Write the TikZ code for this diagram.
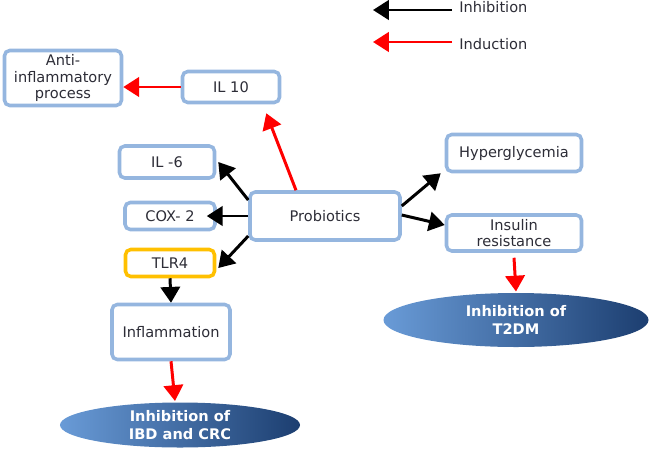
\documentclass[tikz,border=0pt]{standalone}
\usepackage{fontspec}
\setmainfont{DejaVu Sans}
\usetikzlibrary{arrows.meta,shapes.geometric,positioning}

\definecolor{boxblue}{RGB}{149,182,223}
\definecolor{tlrorange}{RGB}{255,192,0}
\definecolor{ovallight}{RGB}{105,155,215}
\definecolor{ovaldark}{RGB}{28,62,112}
\definecolor{labelgray}{RGB}{45,45,55}

\begin{document}
\begin{tikzpicture}
  [
  x=0.2mm, y=-0.2mm,
  font=\fontsize{8.3}{9.6}\selectfont, text=labelgray, line width=1.7pt,
  >={Triangle[width=11pt,length=9pt]},
  factor/.style={rectangle, draw=boxblue, line width=2pt, rounded corners=3pt, fill=white, align=center, inner sep=1pt},
  receptor/.style={factor, draw=tlrorange},
  outcome/.style={ellipse, left color=ovallight, right color=ovaldark, text=white, font=\fontsize{8.3}{10.5}\selectfont\bfseries, align=center, inner sep=0pt},
  inhib/.style={->, draw=black},
  induc/.style={->, draw=red}
  ]
\useasboundingbox (0,0) rectangle (650,452);

% legend
\node[anchor=west] (inhlabel) at (452,7) {Inhibition};
\node[anchor=west] (indlabel) at (452,44) {Induction};
\coordinate (inhtip) at (373,10);
\coordinate (indtip) at (373,42);
\draw[inhib] (inhlabel.west |- inhtip) -- (inhtip);
\draw[induc] (indlabel.west |- indtip) -- (indtip);

% boxes
\node[factor, minimum width=23.4mm, minimum height=11mm] (anti) at (63,78) {Anti-\\inflammatory\\process};
\node[factor, minimum width=19.4mm, minimum height=6.2mm] (il10) at (231,87) {IL 10};
\node[factor, minimum width=19mm, minimum height=6.4mm] (il6) at (167,162) {IL -6};
\node[factor, minimum width=18mm, minimum height=5.4mm] (cox2) at (170,216) {COX- 2};
\node[receptor, minimum width=17.8mm, minimum height=5.4mm] (tlr4) at (170,263) {TLR4};
\node[factor, minimum width=30mm, minimum height=9.6mm] (probiotics) at (325,216) {Probiotics};
\node[factor, minimum width=27mm, minimum height=7.4mm] (hyper) at (514,153) {Hyperglycemia};
\node[factor, minimum width=27mm, minimum height=7.2mm] (insulin) at (514,233) {Insulin\\resistance};
\node[factor, minimum width=23.6mm, minimum height=11mm] (inflam) at (171,332) {Inflammation};

% outcomes
\node[outcome, minimum width=48mm, minimum height=9mm] (ibd) at (180,425) {Inhibition of\\IBD and CRC};
\node[outcome, minimum width=53mm, minimum height=10.8mm] (t2dm) at (516,320) {Inhibition of\\T2DM};

% arrows
\draw[induc] (il10.west) -- (il10.west -| anti.east);
\draw[induc] ([xshift=-5.8mm]probiotics.north) -- ([xshift=-3mm,yshift=-1.8mm]il10.south east);
\draw[inhib] ([yshift=3.2mm]probiotics.west) -- ([xshift=0.4mm]il6.east);
\draw[inhib] (probiotics.west) -- ([xshift=-2mm]cox2.east);
\draw[inhib] ([yshift=-4mm]probiotics.west) -- ([xshift=0.4mm,yshift=-1mm]tlr4.east);
\draw[inhib] (tlr4.south) -- (inflam.north);
\draw[induc] (inflam.south) -- ([xshift=-1mm]ibd.north);
\draw[inhib] ([yshift=2mm]probiotics.east) -- ([xshift=-0.8mm]hyper.south west);
\draw[inhib] ([yshift=0.2mm]probiotics.east) -- ([yshift=1.6mm]insulin.west);
\draw[induc] ([yshift=-1mm]insulin.south) -- (t2dm.north);
\end{tikzpicture}
\end{document}
